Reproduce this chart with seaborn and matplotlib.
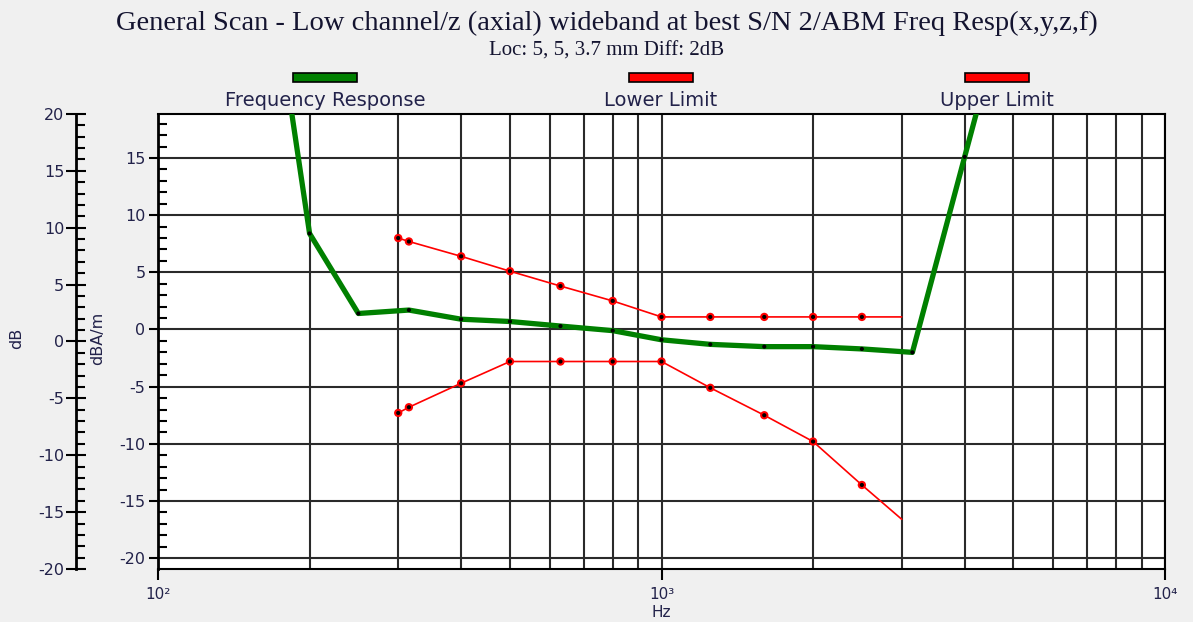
import matplotlib
matplotlib.use("Agg")
import matplotlib.pyplot as plt
from matplotlib.patches import Rectangle
from matplotlib.ticker import MultipleLocator, LogLocator, FixedLocator, NullFormatter
import seaborn as sns
import pandas as pd

# Measured frequency response (Hz, dBA/m)
resp_hz = [180, 200, 250, 315, 400, 500, 630, 800, 1000, 1250, 1600, 2000, 2500, 3150, 4000, 5000]
resp_db = [22.0, 8.4, 1.4, 1.7, 0.9, 0.7, 0.3, -0.1, -0.9, -1.3, -1.5, -1.5, -1.7, -2.0, 15.1, 31.0]

# Tolerance mask
limit_hz = [300, 315, 400, 500, 630, 800, 1000, 1250, 1600, 2000, 2500, 3000]
upper_db = [8.0, 7.7, 6.4, 5.1, 3.8, 2.5, 1.1, 1.1, 1.1, 1.1, 1.1, 1.1]
lower_db = [-7.3, -6.8, -4.7, -2.8, -2.8, -2.8, -2.8, -5.1, -7.5, -9.8, -13.6, -16.6]

legend_labels = ["Frequency Response", "Lower Limit", "Upper Limit"]
x_tick_labels = ["10²", "10³", "10⁴"]

title = "General Scan - Low channel/z (axial) wideband at best S/N 2/ABM Freq Resp(x,y,z,f)"
subtitle = "Loc: 5, 5, 3.7 mm Diff: 2dB"

sns.set_style("white")
plt.rcParams["font.family"] = ["DejaVu Sans"]
plt.rcParams["axes.unicode_minus"] = False

BG = "#f0f0f0"
TXT = "#22224a"
GREEN = "#008000"
RED = "#ff0000"
GRID = "#2a2a2a"

W, H = 1193, 622
fig = plt.figure(figsize=(W / 100, H / 100), dpi=100, facecolor=BG)

def fx(px):
    return px / W

def fy(py):
    return 1 - py / H

left, right, top, bottom = 158, 1165, 114, 569
ax = fig.add_axes([fx(left), fy(bottom), fx(right - left), (bottom - top) / H])
ax.set_facecolor("white")

resp = pd.DataFrame({"hz": resp_hz, "db": resp_db})
lim = pd.DataFrame({"hz": limit_hz, "upper": upper_db, "lower": lower_db})

ax.set_xscale("log")
ax.set_xlim(100, 10000)
ax.set_ylim(-20.95, 18.85)

# grid
ax.xaxis.set_major_locator(FixedLocator([100, 1000, 10000]))
ax.xaxis.set_minor_locator(LogLocator(base=10, subs=range(2, 10)))
ax.xaxis.set_minor_formatter(NullFormatter())
ax.set_xticklabels(x_tick_labels)
ax.grid(True, which="both", axis="x", color=GRID, linewidth=1.5)
ax.grid(True, which="major", axis="y", color=GRID, linewidth=1.5)
ax.set_axisbelow(True)

# limit lines
sns.lineplot(data=lim, x="hz", y="upper", ax=ax, color=RED, linewidth=1.2,
             estimator=None, sort=False, legend=False, zorder=3)
sns.lineplot(data=lim, x="hz", y="lower", ax=ax, color=RED, linewidth=1.2,
             estimator=None, sort=False, legend=False, zorder=3)
for col in ["upper", "lower"]:
    pts = lim.iloc[:-1]
    sns.scatterplot(data=pts, x="hz", y=col, ax=ax, color=RED, s=36,
                    edgecolor="none", legend=False, zorder=4)
    sns.scatterplot(data=pts, x="hz", y=col, ax=ax, color="black", s=9,
                    edgecolor="none", legend=False, zorder=5)

# response curve
sns.lineplot(data=resp, x="hz", y="db", ax=ax, color=GREEN, linewidth=3.8,
             estimator=None, sort=False, legend=False, zorder=6)
sns.scatterplot(data=resp, x="hz", y="db", ax=ax, color="black", s=9,
                edgecolor="none", legend=False, zorder=7)

for s in ax.spines.values():
    s.set_color("black")
    s.set_linewidth(1.5)
ax.spines["left"].set_linewidth(2)

ax.set_yticks([-20, -15, -10, -5, 0, 5, 10, 15])
ax.yaxis.set_minor_locator(MultipleLocator(1))
ax.tick_params(axis="x", which="major", bottom=True, direction="out", length=8,
               width=1.5, color="black", labelsize=11, labelcolor=TXT, pad=5)
ax.tick_params(axis="x", which="minor", bottom=False, length=0)
ax.tick_params(axis="y", which="major", left=True, direction="out", length=6.5,
               width=1.5, color="black", labelsize=11.5, labelcolor=TXT, pad=2.5)
ax.tick_params(axis="y", which="minor", left=True, direction="in", length=6.5,
               width=1.5, color="black")
ax.set_xlabel("Hz", fontsize=11, color=TXT, labelpad=2)
ax.set_ylabel("")

fig.text(fx(98), fy(338), "dBA/m", rotation=90, ha="center", va="center",
         fontsize=11.5, color=TXT)

# outer dB scale
ax2 = fig.add_axes([fx(76), fy(bottom), 0.0005, (bottom - top) / H])
ax2.set_facecolor("none")
for k in ["top", "right", "bottom"]:
    ax2.spines[k].set_visible(False)
ax2.spines["left"].set_linewidth(2)
ax2.spines["left"].set_color("black")
ax2.set_ylim(-20, 20)
ax2.set_xticks([])
ax2.yaxis.set_major_locator(MultipleLocator(5))
ax2.yaxis.set_minor_locator(MultipleLocator(1))
ax2.tick_params(axis="y", which="major", left=True, direction="inout", length=14,
                width=1.5, color="black", labelsize=11.5, labelcolor=TXT, pad=1.5)
ax2.tick_params(axis="y", which="minor", left=True, direction="in", length=6.5,
                width=1.5, color="black")
fig.text(fx(17), fy(338), "dB", rotation=90, ha="center", va="center",
         fontsize=11.5, color=TXT)

# titles
fig.text(fx(607), fy(23), title, ha="center", va="center", fontsize=20.5,
         family="Liberation Serif", color="#141430")
fig.text(fx(607), fy(51), subtitle, ha="center", va="center", fontsize=15,
         family="Liberation Serif", color="#141430")

# legend strip
legend_colors = [GREEN, RED, RED]
legend_centers = [325, 661, 997]
for lab, c, cx in zip(legend_labels, legend_colors, legend_centers):
    fig.add_artist(Rectangle((fx(cx - 32), fy(82)), 64 / W, 9 / H,
                             transform=fig.transFigure, facecolor=c,
                             edgecolor="black", linewidth=1.2))
    fig.text(fx(cx), fy(100), lab, ha="center", va="center", fontsize=14,
             color=TXT)

fig.savefig("out.png", dpi=100, facecolor=BG)
